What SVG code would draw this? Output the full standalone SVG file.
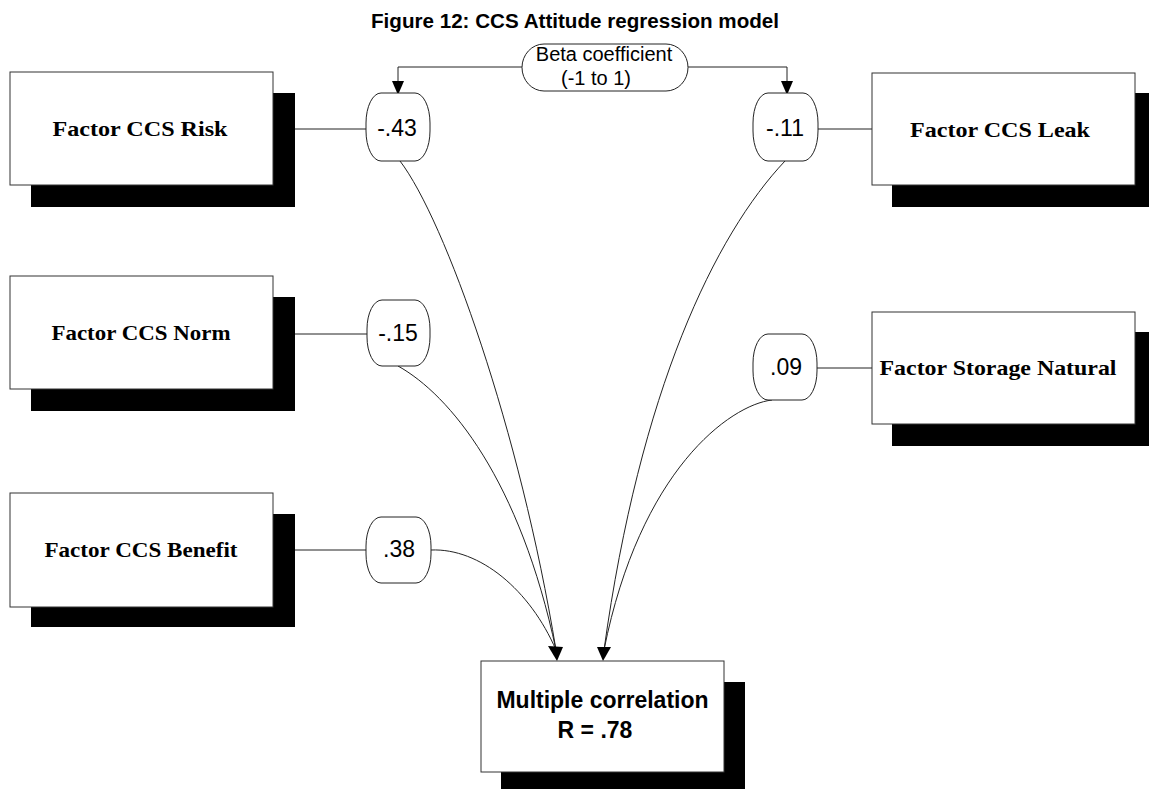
<svg xmlns="http://www.w3.org/2000/svg" width="1149" height="789" viewBox="0 0 1149 789">
  <style>
    .box { fill: #ffffff; stroke: #333333; stroke-width: 1; }
    .shadow { fill: #000000; }
    .pill { fill: #ffffff; stroke: #222222; stroke-width: 1; }
    .lbl { font-family: "Liberation Serif", "Times New Roman", serif; font-weight: bold; font-size: 22px; fill: #000; text-anchor: middle; }
    .num { font-family: "Liberation Sans", Arial, sans-serif; font-size: 23px; fill: #000; text-anchor: middle; }
    .note { font-family: "Liberation Sans", Arial, sans-serif; font-size: 20px; fill: #000; text-anchor: middle; }
    .title { font-family: "Liberation Sans", Arial, sans-serif; font-weight: bold; font-size: 20px; fill: #000; text-anchor: middle; }
    .res { font-family: "Liberation Sans", Arial, sans-serif; font-weight: bold; font-size: 23px; fill: #000; text-anchor: middle; }
    .wire { fill: none; stroke: #222222; stroke-width: 1; }
    .head { fill: #000000; }
  </style>

  <rect width="1149" height="789" fill="#ffffff"/>

  <text class="title" x="575" y="28" textLength="408" lengthAdjust="spacingAndGlyphs">Figure 12: CCS Attitude regression model</text>

  <!-- connectors -->
  <g id="connectors">
    <!-- beta legend feeding both top coefficients -->
    <polyline class="wire" points="522,67 398,67 398,82"/>
    <polyline class="wire" points="688,67 787,67 787,82"/>
    <polygon class="head" points="392,81 404,81 398,95"/>
    <polygon class="head" points="781,81 793,81 787,95"/>

    <!-- factor boxes to coefficients -->
    <line class="wire" x1="295" y1="129" x2="366" y2="129"/>
    <line class="wire" x1="818" y1="129" x2="872" y2="129"/>
    <line class="wire" x1="295" y1="334" x2="367" y2="334"/>
    <line class="wire" x1="817" y1="368" x2="872" y2="368"/>
    <line class="wire" x1="295" y1="550" x2="366" y2="550"/>

    <!-- coefficients to the result -->
    <path class="wire" d="M400,161 C445,220 520,430 556,650"/>
    <path class="wire" d="M398,366 C450,395 520,480 556,650"/>
    <path class="wire" d="M431,550 C480,548 530,590 556,650"/>
    <path class="wire" d="M785,161 C715,235 640,390 604,650"/>
    <path class="wire" d="M772,400 C730,405 640,470 604,650"/>
    <polygon class="head" points="548,646 563,647 557,661"/>
    <polygon class="head" points="597,647 611,647 603,661"/>
  </g>

  <g id="beta-legend">
    <rect class="pill" x="522" y="44" width="166" height="47" rx="22" ry="23.5"/>
    <text class="note" x="604" y="61">Beta coefficient</text>
    <text class="note" x="596" y="85">(-1 to 1)</text>
  </g>

  <g id="factor-risk">
    <rect class="shadow" x="31" y="93" width="264" height="114"/>
    <rect class="box" x="10" y="72" width="263" height="113"/>
    <text class="lbl" x="140" y="136" textLength="175" lengthAdjust="spacingAndGlyphs">Factor CCS Risk</text>
  </g>
  <g id="coef-risk">
    <rect class="pill" x="366" y="93" width="64" height="68" rx="15" ry="30"/>
    <text class="num" x="397" y="136">-.43</text>
  </g>

  <g id="factor-leak">
    <rect class="shadow" x="892" y="93" width="257" height="114"/>
    <rect class="box" x="872" y="73" width="263" height="112"/>
    <text class="lbl" x="1000" y="137" textLength="180" lengthAdjust="spacingAndGlyphs">Factor CCS Leak</text>
  </g>
  <g id="coef-leak">
    <rect class="pill" x="753" y="93" width="65" height="68" rx="15" ry="30"/>
    <text class="num" x="785" y="136">-.11</text>
  </g>

  <g id="factor-norm">
    <rect class="shadow" x="31" y="297" width="264" height="114"/>
    <rect class="box" x="10" y="276" width="263" height="113"/>
    <text class="lbl" x="141" y="340" textLength="179" lengthAdjust="spacingAndGlyphs">Factor CCS Norm</text>
  </g>
  <g id="coef-norm">
    <rect class="pill" x="367" y="300" width="63" height="66" rx="15" ry="29"/>
    <text class="num" x="398" y="341">-.15</text>
  </g>

  <g id="factor-storage">
    <rect class="shadow" x="892" y="332" width="257" height="114"/>
    <rect class="box" x="872" y="312" width="263" height="112"/>
    <text class="lbl" x="998" y="375" textLength="237" lengthAdjust="spacingAndGlyphs">Factor Storage Natural</text>
  </g>
  <g id="coef-storage">
    <rect class="pill" x="753" y="334" width="64" height="66" rx="15" ry="29"/>
    <text class="num" x="786" y="375">.09</text>
  </g>

  <g id="factor-benefit">
    <rect class="shadow" x="31" y="514" width="264" height="113"/>
    <rect class="box" x="10" y="493" width="263" height="114"/>
    <text class="lbl" x="141" y="557" textLength="193" lengthAdjust="spacingAndGlyphs">Factor CCS Benefit</text>
  </g>
  <g id="coef-benefit">
    <rect class="pill" x="366" y="517" width="65" height="66" rx="15" ry="29"/>
    <text class="num" x="399" y="557">.38</text>
  </g>

  <g id="result">
    <rect class="shadow" x="501" y="682" width="244" height="112"/>
    <rect class="box" x="481" y="661" width="243" height="111"/>
    <text class="res" x="602.5" y="708">Multiple correlation</text>
    <text class="res" x="595" y="738">R = .78</text>
  </g>
</svg>
